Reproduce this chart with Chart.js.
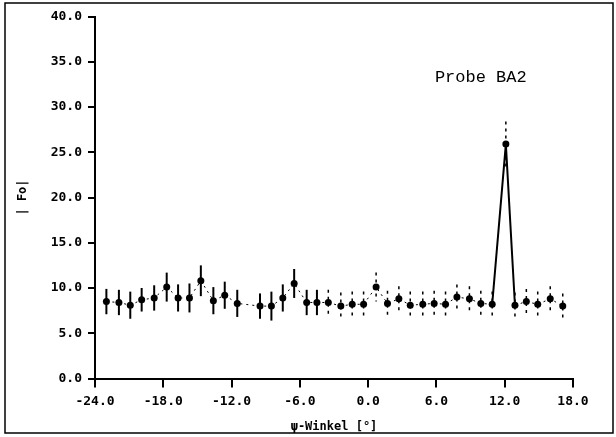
<!DOCTYPE html>
<html>
<head>
<meta charset="utf-8">
<script src="https://cdn.jsdelivr.net/npm/chart.js@4/dist/chart.umd.min.js"></script>
<style>
html,body{margin:0;padding:0;background:#fff;}
#wrap{width:616px;height:437px;position:relative;}
</style>
</head>
<body>
<div id="wrap"><canvas id="c" width="616" height="437"></canvas></div>
<script>
// psi angle (degrees) of each measurement
const angles = [-23.0,-21.9,-20.9,-19.9,-18.8,-17.7,-16.7,-15.7,-14.7,-13.6,-12.6,-11.5,-10.5,-9.5,-8.5,-7.5,-6.5,-5.4,-4.5,-3.5,-2.4,-1.4,-0.4,0.7,1.7,2.7,3.7,4.8,5.8,6.8,7.8,8.9,9.9,10.9,12.1,12.9,13.9,14.9,16.0,17.1];
// |Fo| values
const foValues = [8.5,8.4,8.1,8.7,8.9,10.1,8.9,8.9,10.8,8.6,9.2,8.3,null,8.0,8.0,8.9,10.5,8.4,8.4,8.4,8.0,8.2,8.2,10.1,8.3,8.8,8.1,8.2,8.3,8.2,9.0,8.8,8.3,8.2,25.9,8.1,8.5,8.2,8.8,8.0];
// error (+/-) of each value
const foErrors = [1.4,1.4,1.5,1.3,1.4,1.6,1.5,1.6,1.7,1.5,1.5,1.5,null,1.4,1.6,1.5,1.6,1.4,1.4,1.4,1.5,1.4,1.4,1.6,1.4,1.4,1.5,1.4,1.4,1.4,1.4,1.4,1.4,1.4,2.5,1.4,1.4,1.4,1.4,1.4];
const xTicks = [-24,-18,-12,-6,0,6,12,18];
const yTicks = [0,5,10,15,20,25,30,35,40];
const sampleLabel = 'Probe BA2';
const xTitle = 'ψ-Winkel [°]';
const yTitle = '| Fo|';

const points = angles.map((a,i)=>({x:a, y:foValues[i]}));

const framePlugin = {
  id:'frame',
  beforeDraw(chart){
    const ctx = chart.ctx;
    ctx.save();
    ctx.fillStyle = '#fff';
    ctx.fillRect(0,0,chart.width,chart.height);
    ctx.strokeStyle = '#000';
    ctx.lineWidth = 1.5;
    ctx.strokeRect(5,3,608,430);
    ctx.restore();
  },
  afterDraw(chart){
    const ctx = chart.ctx;
    const xs = chart.scales.x, ys = chart.scales.y;
    ctx.save();
    ctx.fillStyle = '#000';
    ctx.font = '17px "Liberation Mono", "Courier New", monospace';
    ctx.textAlign = 'center';
    ctx.textBaseline = 'middle';
    ctx.fillText(sampleLabel, xs.getPixelForValue(9.9), ys.getPixelForValue(33.3));
    ctx.restore();
  }
};

const errorBarPlugin = {
  id:'errbars',
  afterDatasetsDraw(chart){
    const ctx = chart.ctx;
    const xs = chart.scales.x, ys = chart.scales.y;
    ctx.save();
    ctx.strokeStyle = '#000';
    angles.forEach((a,i)=>{
      const v = foValues[i], e = foErrors[i];
      if (v === null || e === null) return;
      const px = xs.getPixelForValue(a);
      const top = ys.getPixelForValue(v+e), bot = ys.getPixelForValue(v-e);
      if (a < -4) { ctx.setLineDash([]); ctx.lineWidth = 2; }
      else { ctx.setLineDash([3,4]); ctx.lineWidth = 1.5; }
      ctx.beginPath();
      ctx.moveTo(px, top);
      ctx.lineTo(px, bot);
      ctx.stroke();
    });
    ctx.restore();
  }
};

const tickFont = {family:'"DejaVu Sans Mono", monospace', size:13, weight:'bold'};

new Chart(document.getElementById('c'), {
  type:'scatter',
  data:{
    datasets:[{
      data: points,
      showLine:true,
      spanGaps:true,
      borderColor:'#000',
      borderWidth:1,
      backgroundColor:'#000',
      pointRadius:3.5,
      pointBackgroundColor:'#000',
      pointBorderWidth:0,
      segment:{
        borderDash: ctx => (ctx.p0.parsed.y > 20 || ctx.p1.parsed.y > 20) ? [] : [2,4],
        borderWidth: ctx => (ctx.p0.parsed.y > 20 || ctx.p1.parsed.y > 20) ? 2 : 1
      }
    }]
  },
  options:{
    responsive:false,
    animation:false,
    devicePixelRatio:1,
    layout:{padding:{left:0, top:16.5, right:43, bottom:0}},
    plugins:{legend:{display:false}, tooltip:{enabled:false}},
    scales:{
      x:{
        type:'linear', min:-24, max:18,
        afterBuildTicks: s => { s.ticks = xTicks.map(v=>({value:v})); },
        afterFit: s => { s.height = 58.5; },
        grid:{display:true, drawOnChartArea:false, drawTicks:true, tickLength:9, color:'#000', lineWidth:2},
        border:{display:true, color:'#000', width:2},
        ticks:{color:'#000', font:tickFont, padding:6, maxRotation:0, callback: v => v.toFixed(1)},
        title:{display:true, text:xTitle, color:'#000', font:{family:'"DejaVu Sans Mono", monospace', size:12, weight:'bold'}, padding:{top:0,bottom:3}}
      },
      y:{
        type:'linear', min:0, max:40,
        afterBuildTicks: s => { s.ticks = yTicks.map(v=>({value:v})); },
        afterFit: s => { s.width = 95; },
        grid:{display:true, drawOnChartArea:false, drawTicks:true, tickLength:7, color:'#000', lineWidth:2},
        border:{display:true, color:'#000', width:2},
        ticks:{color:'#000', font:tickFont, padding:6, callback: v => v.toFixed(1)},
        title:{display:true, text:yTitle, color:'#000', font:{family:'"DejaVu Sans Mono", monospace', size:12, weight:'bold'}, padding:{top:16,bottom:0}}
      }
    }
  },
  plugins:[framePlugin, errorBarPlugin]
});
</script>
</body>
</html>
